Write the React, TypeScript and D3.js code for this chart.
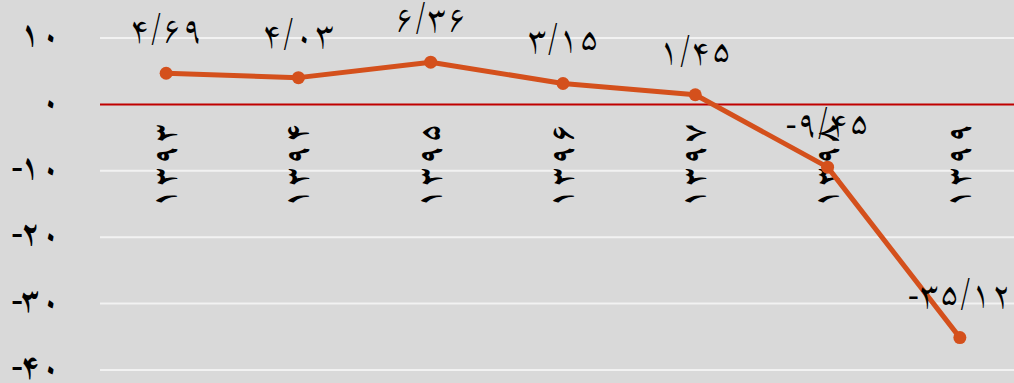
import React from "react";
import * as d3 from "d3";

const categories = ["۱۳۹۳", "۱۳۹۴", "۱۳۹۵", "۱۳۹۶", "۱۳۹۷", "۱۳۹۸", "۱۳۹۹"];
const values = [4.69, 4.03, 6.36, 3.15, 1.45, -9.45, -35.12];
const valueLabels = ["۴/۶۹", "۴/۰۳", "۶/۳۶", "۳/۱۵", "۱/۴۵", "-۹/۴۵", "-۳۵/۱۲"];
const yTicks = [10, 0, -10, -20, -30, -40];
const yTickLabels = ["۱۰", "۰", "-۱۰", "-۲۰", "-۳۰", "-۴۰"];

const W = 1014;
const H = 383;

function chars(s: string, gap: number, afterMinus: number) {
  return s.split("").map((ch, k) => (
    <tspan key={k} dx={k === 0 ? 0 : s[k - 1] === "-" ? afterMinus : gap}>
      {ch}
    </tspan>
  ));
}

export default function App() {
  const x = d3.scaleBand<string>().domain(categories).range([100, 1026]);
  const y = d3.scaleLinear().domain([-40, 10]).range([370, 38]);
  const cx = (c: string) => (x(c) as number) + x.bandwidth() / 2;
  const line = d3
    .line<number>()
    .x((_, i) => cx(categories[i]))
    .y((d) => y(d));
  const font = "'Scheherazade New'";
  return (
    <svg width={W} height={H} style={{ position: "absolute", left: 0, top: 0 }}>
      <rect x={0} y={0} width={W} height={H} fill="#d9d9d9" />
      {yTicks.map((t, i) => (
        <g key={t}>
          {t !== 0 && (
            <line x1={100} x2={W} y1={y(t)} y2={y(t)} stroke="#f2f2f2" strokeWidth={2} />
          )}
          <text
            x={61}
            y={y(t) + 6}
            textAnchor="end"
            fontFamily={font}
            fontWeight="bold"
            fontSize={33}
            fill="#000"
          >
            {chars(yTickLabels[i], 2, -2)}
          </text>
        </g>
      ))}
      <line x1={100} x2={W} y1={y(0)} y2={y(0)} stroke="#c00000" strokeWidth={2} />
      {categories.map((c) => (
        <text
          key={c}
          transform={`translate(${cx(c) + 8},208) rotate(-90)`}
          textAnchor="start"
          fontFamily={font}
          fontWeight="bold"
          fontSize={32}
          fill="#000"
        >
          {chars(c, 3, 0)}
        </text>
      ))}
      <path d={line(values) || ""} fill="none" stroke="#d4501c" strokeWidth={5} strokeLinejoin="round" />
      {values.map((v, i) => (
        <circle key={i} cx={cx(categories[i])} cy={y(v)} r={6.5} fill="#d4501c" />
      ))}
      {values.map((v, i) => (
        <text
          key={"l" + i}
          x={cx(categories[i])}
          y={y(v) - 33}
          textAnchor="middle"
          fontFamily={font}
          fontSize={36}
          fill="#000"
        >
          {valueLabels[i]}
        </text>
      ))}
    </svg>
  );
}
